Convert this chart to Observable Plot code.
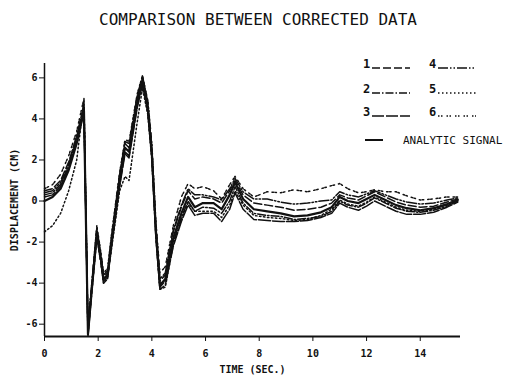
<!DOCTYPE html>
<html><head><meta charset="utf-8">
<script src="https://cdn.jsdelivr.net/npm/d3@7"></script>
<script src="https://cdn.jsdelivr.net/npm/@observablehq/plot@0.6"></script>
<style>
body{margin:0;background:#fff;width:506px;height:381px;position:relative;overflow:hidden;font-family:"DejaVu Sans Mono",monospace;color:#111}
#title{height:40px;line-height:40px;text-align:center;font-size:16px;padding-left:10px;box-sizing:border-box;width:506px}
#legend{position:absolute;left:0;top:0;width:506px;height:381px;pointer-events:none}
.lg{position:absolute;display:flex;align-items:center;font-weight:bold;font-size:12px;height:14px}
.lg svg{display:block}
.an{font-weight:normal;font-size:11px}
</style></head><body>
<div id="title">COMPARISON BETWEEN CORRECTED DATA</div>
<div id="chart"></div>
<div id="legend"></div>
<script>
// time (s)
const T = [0,0.3,0.6,0.9,1.2,1.47,1.62,1.75,1.95,2.1,2.2,2.35,2.5,2.8,3.0,3.15,3.45,3.65,3.85,4.0,4.15,4.3,4.5,4.8,5.1,5.35,5.6,5.9,6.3,6.6,6.9,7.1,7.4,7.8,8.3,8.8,9.3,9.8,10.3,10.7,11.0,11.3,11.7,12.0,12.3,12.7,13.1,13.5,14.0,14.5,15.0,15.4];
// analytic signal (cm)
const ANALYTIC = [0.0,0.2,0.6,1.5,2.8,4.4,-6.5,-4.5,-1.6,-2.8,-3.8,-3.6,-2.0,1.0,2.6,2.4,4.8,5.9,4.5,2.3,-1.5,-4.1,-3.8,-1.8,-0.6,0.2,-0.3,-0.1,-0.1,-0.4,0.3,0.9,0.1,-0.4,-0.5,-0.6,-0.75,-0.7,-0.55,-0.3,0.2,0.0,-0.1,0.1,0.3,0.05,-0.2,-0.35,-0.45,-0.35,-0.15,0.05];
const S1 = [0.5,0.6,1.0,1.9,3.1,4.6,-6.3,-4.3,-1.4,-2.7,-3.7,-3.5,-1.8,1.2,2.8,2.6,5.0,6.0,4.7,2.5,-1.3,-3.9,-3.6,-1.5,-0.3,0.5,0.1,0.2,0.1,-0.1,0.5,1.0,0.3,-0.1,-0.2,-0.3,-0.45,-0.4,-0.3,-0.1,0.3,0.15,0.05,0.25,0.45,0.2,-0.05,-0.2,-0.3,-0.25,-0.05,0.1];
const S2 = [0.3,0.4,0.8,1.7,3.0,4.5,-6.4,-4.4,-1.5,-2.9,-3.9,-3.7,-2.1,0.8,2.4,2.2,4.6,5.8,4.4,2.2,-1.6,-4.2,-3.9,-2.0,-0.8,0.0,-0.5,-0.3,-0.35,-0.6,0.0,0.7,-0.1,-0.6,-0.7,-0.75,-0.9,-0.85,-0.75,-0.5,0.0,-0.2,-0.3,-0.1,0.15,-0.1,-0.35,-0.5,-0.55,-0.45,-0.25,0.0];
const S3 = [0.2,0.3,0.7,1.6,2.9,4.3,-6.6,-4.6,-1.7,-3.0,-4.0,-3.8,-2.2,0.7,2.3,2.1,4.5,5.7,4.3,2.1,-1.8,-4.3,-4.1,-2.2,-1.0,-0.2,-0.7,-0.6,-0.6,-1.0,-0.4,0.4,-0.4,-0.9,-0.95,-1.0,-1.0,-0.95,-0.8,-0.6,-0.1,-0.3,-0.45,-0.25,0.0,-0.25,-0.5,-0.65,-0.65,-0.55,-0.3,-0.05];
const S4 = [0.4,0.5,0.9,1.8,3.2,4.7,-6.2,-4.2,-1.3,-2.6,-3.6,-3.4,-1.7,1.3,2.9,2.8,5.1,6.1,4.8,2.6,-1.2,-3.8,-3.5,-1.4,-0.2,0.6,0.3,0.3,0.2,0.05,0.6,1.1,0.45,0.1,0.1,-0.05,-0.15,-0.1,0.0,0.05,0.45,0.3,0.2,0.35,0.5,0.3,0.1,-0.05,-0.15,-0.1,0.05,0.15];
const S5 = [-1.5,-1.2,-0.6,0.5,2.0,4.9,-6.5,-4.6,-1.8,-3.0,-4.0,-3.7,-2.3,0.5,1.2,1.0,3.8,5.5,4.2,2.0,-1.7,-4.3,-4.2,-2.1,-0.9,-0.1,-0.5,-0.5,-0.5,-0.8,-0.2,0.5,-0.2,-0.7,-0.8,-0.85,-0.95,-0.9,-0.7,-0.4,0.05,-0.15,-0.25,-0.05,0.2,-0.05,-0.3,-0.45,-0.5,-0.4,-0.2,0.0];
const S6 = [0.6,0.8,1.3,2.2,3.4,5.0,-6.2,-4.2,-1.2,-2.5,-3.5,-3.3,-1.6,1.4,3.0,2.9,5.2,6.1,4.9,2.8,-1.0,-3.5,-3.2,-1.2,0.2,0.85,0.6,0.7,0.5,0.1,0.8,1.2,0.6,0.2,0.45,0.4,0.55,0.45,0.6,0.75,0.85,0.6,0.4,0.45,0.55,0.45,0.45,0.25,0.05,0.1,0.2,0.2];
const SERIES_NAMES = ["1","2","3","4","5","6","ANALYTIC SIGNAL"];
const SERIES_DASH = ["8,3","8,2,1.5,2","12,2","10,2,1.5,2,1.5,2","1.5,2.5","1.5,1.5,1.5,4",null];
const X_TICKS = [0,2,4,6,8,10,12,14];
const Y_TICKS = [-6,-4,-2,0,2,4,6];
const X_DOMAIN = [0,15.5];
const Y_DOMAIN = [-6.6,6.7];

const allVals = [S1,S2,S3,S4,S5,S6,ANALYTIC];
const rows = [];
allVals.forEach((vals,i)=>vals.forEach((v,j)=>rows.push({t:T[j],v,s:SERIES_NAMES[i]})));

const lineMarks = SERIES_NAMES.map((name,i)=>Plot.line(rows.filter(d=>d.s===name),{
  x:"t",y:"v",stroke:"#111",
  strokeWidth: SERIES_DASH[i]===null?2.2:1.5,
  strokeDasharray: SERIES_DASH[i]===null?undefined:SERIES_DASH[i]
}));

const chart = Plot.plot({
  width:506,height:341,
  marginLeft:44,marginRight:46,marginTop:23,marginBottom:45,
  style:{fontFamily:"DejaVu Sans Mono, monospace",fontSize:"10px",fontWeight:"bold",color:"#111",background:"#fff"},
  x:{domain:X_DOMAIN,labelArrow:"none"},
  y:{domain:Y_DOMAIN,labelArrow:"none"},
  marks:[
    Plot.ruleX([X_DOMAIN[0]],{stroke:"#111",strokeWidth:1.5}),
    Plot.ruleY([Y_DOMAIN[0]],{stroke:"#111",strokeWidth:2}),
    Plot.axisY({ticks:Y_TICKS,tickSize:5,tickPadding:2,tickFormat:d=>String(d),label:"DISPLACEMENT (CM)",labelArrow:"none",labelAnchor:"center",labelOffset:34}),
    Plot.axisX({ticks:X_TICKS,tickSize:5,tickPadding:8,tickFormat:d=>String(d),label:"TIME (SEC.)",labelArrow:"none",labelAnchor:"center",labelOffset:36}),
    ...lineMarks
  ]
});
document.getElementById("chart").appendChild(chart);

// legend
const L = document.getElementById("legend");
const pos = [[363,57,1],[429,57,4],[363,82,2],[429,82,5],[363,105,3],[429,105,6]];
pos.forEach(([x,y,n])=>{
  const i = n-1;
  const d = document.createElement("div");
  d.className="lg";
  d.style.left=x+"px"; d.style.top=y+"px";
  d.innerHTML = `<span>${SERIES_NAMES[i]}</span><svg width="40" height="12"><line x1="2" y1="10" x2="40" y2="10" stroke="#111" stroke-width="1.6" stroke-dasharray="${SERIES_DASH[i]}"/></svg>`;
  L.appendChild(d);
});
const a = document.createElement("div");
a.className="lg an"; a.style.left="365px"; a.style.top="133px";
a.innerHTML = `<svg width="38" height="12"><line x1="0" y1="6" x2="18" y2="6" stroke="#111" stroke-width="2"/></svg><span>${SERIES_NAMES[6]}</span>`;
L.appendChild(a);
</script>
</body></html>
